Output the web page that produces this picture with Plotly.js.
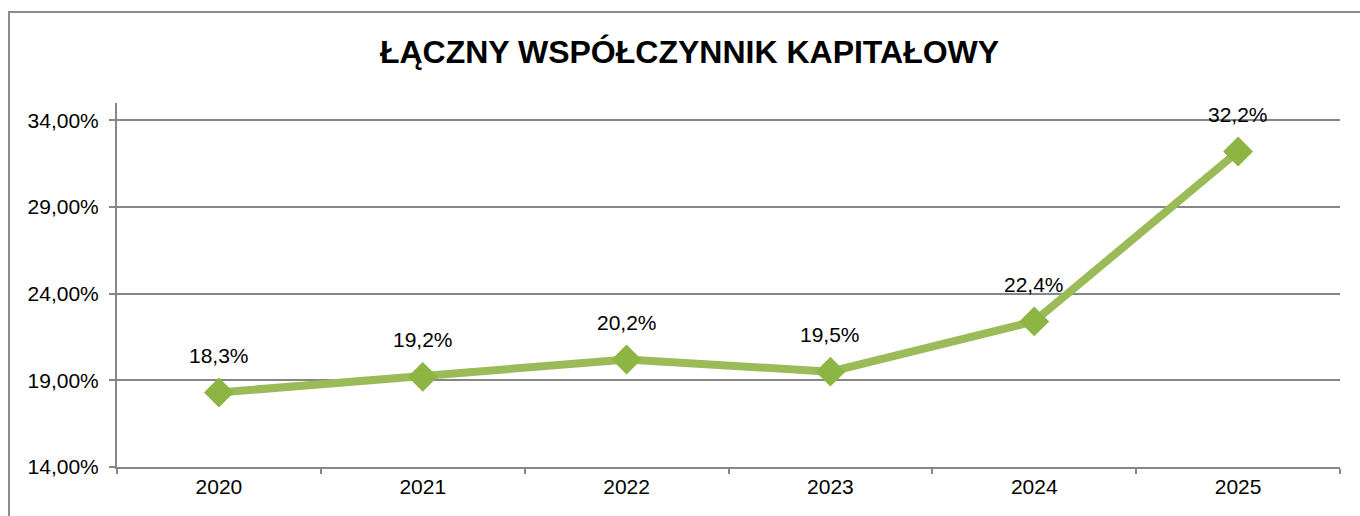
<!DOCTYPE html>
<html>
<head>
<meta charset="utf-8">
<script src="https://cdn.plot.ly/plotly-3.0.1.min.js"></script>
<style>
html,body{margin:0;padding:0;background:#fff;}
#chart{width:1360px;height:516px;}
</style>
</head>
<body>
<div id="chart"></div>
<script>
const years = ["2020", "2021", "2022", "2023", "2024", "2025"];
const ratio = [18.3, 19.2, 20.2, 19.5, 22.4, 32.2];
const yTicks = [14, 19, 24, 29, 34];
const chartTitle = "ŁĄCZNY WSPÓŁCZYNNIK KAPITAŁOWY";

const fmt = v => v.toFixed(1).replace(".", ",") + "%";
const FONT = "Liberation Sans, Arial, sans-serif";

const trace = {
  x: years,
  y: ratio,
  type: "scatter",
  mode: "lines+markers",
  line: {color: "#9BBB59", width: 8},
  marker: {symbol: "diamond", size: 23, color: "#8DB543", line: {width: 0}},
  hoverinfo: "skip",
  cliponaxis: false
};

const annotations = years.map((yr, i) => ({
  x: i, y: ratio[i], xref: "x", yref: "y",
  text: fmt(ratio[i]), showarrow: false, yshift: 37,
  xanchor: "center", yanchor: "middle",
  font: {family: FONT, size: 21, color: "#000"}
}));

const layout = {
  width: 1360, height: 516,
  margin: {l: 117, r: 20, t: 103, b: 49},
  paper_bgcolor: "#fff", plot_bgcolor: "#fff",
  showlegend: false,
  font: {family: FONT, size: 21, color: "#000"},
  title: {
    text: "<b>" + chartTitle + "</b>",
    font: {family: FONT, size: 32, color: "#000"},
    xref: "container", yref: "container", x: 0.507, y: 1 - 52/516,
    xanchor: "center", yanchor: "middle"
  },
  xaxis: {
    type: "category",
    tickson: "boundaries",
    ticks: "outside", ticklen: 5, tickwidth: 2, tickcolor: "#868686",
    showline: true, linecolor: "#868686", linewidth: 2,
    showgrid: false, zeroline: false,
    range: [-0.5, 5.5],
    tickfont: {family: FONT, size: 21}
  },
  yaxis: {
    range: [14, 35],
    tickmode: "array",
    tickvals: yTicks,
    ticktext: yTicks.map(v => v.toFixed(2).replace(".", ",") + "%"),
    ticks: "outside", ticklen: 6, tickwidth: 2, tickcolor: "#868686",
    showline: true, linecolor: "#868686", linewidth: 2,
    showgrid: true, gridcolor: "#868686", gridwidth: 2,
    zeroline: false,
    ticklabelstandoff: 6,
    tickfont: {family: FONT, size: 21}
  },
  annotations: annotations,
  shapes: [{
    type: "rect", xref: "paper", yref: "paper",
    x0: (9 - 117) / 1223, x1: 1.2, y0: -0.4, y1: 1 + (103 - 12) / 364,
    line: {color: "#8c8c8c", width: 2}, fillcolor: "rgba(0,0,0,0)", layer: "below"
  }]
};

Plotly.newPlot("chart", [trace], layout, {staticPlot: true});
</script>
</body>
</html>
